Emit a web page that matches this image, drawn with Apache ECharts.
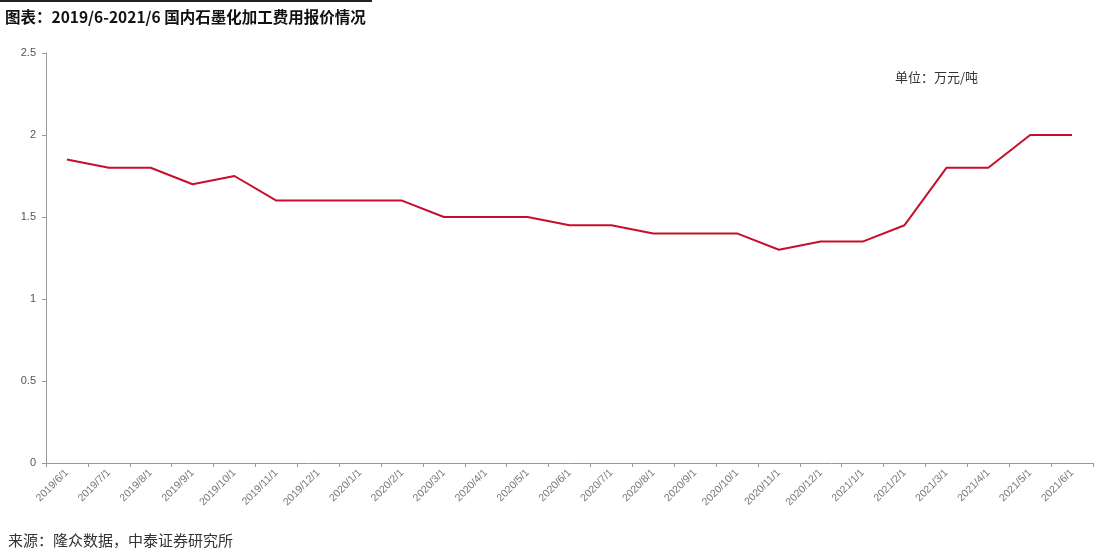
<!DOCTYPE html>
<html>
<head>
<meta charset="utf-8">
<script src="https://cdn.jsdelivr.net/npm/echarts@6/dist/echarts.min.js"></script>
<style>
html,body{margin:0;padding:0;background:#fff;}
#c{width:1108px;height:556px;}
</style>
</head>
<body>
<div id="c"></div>
<script>
const titleText = '图表：2019/6-2021/6 国内石墨化加工费用报价情况';
const sourceText = '来源：隆众数据，中泰证券研究所';
const unitText = '单位：万元/吨';
const categories = ['2019/6/1','2019/7/1','2019/8/1','2019/9/1','2019/10/1','2019/11/1','2019/12/1',
  '2020/1/1','2020/2/1','2020/3/1','2020/4/1','2020/5/1','2020/6/1','2020/7/1','2020/8/1','2020/9/1',
  '2020/10/1','2020/11/1','2020/12/1','2021/1/1','2021/2/1','2021/3/1','2021/4/1','2021/5/1','2021/6/1'];
const prices = [1.85,1.8,1.8,1.7,1.75,1.6,1.6,1.6,1.6,1.5,1.5,1.5,1.45,1.45,1.4,1.4,1.4,1.3,1.35,1.35,1.45,1.8,1.8,2.0,2.0];
const yTicks = [0,0.5,1,1.5,2,2.5];

const chart = echarts.init(document.getElementById('c'));
chart.setOption({
  backgroundColor:'#ffffff',
  animation:false,
  title:[
    {text:titleText,left:0,top:4,textStyle:{fontFamily:'Noto Sans CJK SC',fontWeight:'bold',fontSize:15.5,color:'#111'}},
    {text:sourceText,left:3,top:528,textStyle:{fontFamily:'Noto Sans CJK SC',fontWeight:'normal',fontSize:15,color:'#333'}},
    {text:unitText,left:890,top:66,textStyle:{fontFamily:'Noto Sans CJK SC',fontWeight:'normal',fontSize:13,color:'#333'}}
  ],
  graphic:[{type:'rect',shape:{x:0,y:0,width:372,height:2},style:{fill:'#222'}}],
  grid:{left:46,right:15,top:53,bottom:93},
  xAxis:{
    type:'category',
    data:categories,
    boundaryGap:true,
    axisLine:{lineStyle:{color:'#999',width:1}},
    axisTick:{show:true,alignWithLabel:false,length:4,lineStyle:{color:'#999'}},
    axisLabel:{rotate:45,fontSize:10.5,color:'#777',fontFamily:'Liberation Sans',interval:0,margin:8}
  },
  yAxis:{
    type:'value',
    min:0,max:2.5,interval:0.5,
    axisLine:{show:true,lineStyle:{color:'#999',width:1}},
    axisTick:{show:true,length:4,lineStyle:{color:'#999'}},
    splitLine:{show:false},
    axisLabel:{fontSize:11,color:'#555',fontFamily:'Liberation Sans',margin:10,
      formatter:function(v){return yTicks.indexOf(v)>=0?String(v):'';}}
  },
  series:[{
    type:'line',
    data:prices,
    symbol:'none',
    lineStyle:{color:'#c5102a',width:2},
    itemStyle:{color:'#c5102a'}
  }]
});
</script>
</body>
</html>
